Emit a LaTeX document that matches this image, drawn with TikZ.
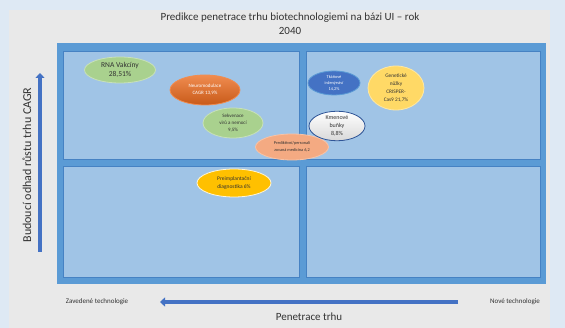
\documentclass[tikz,border=0pt]{standalone}
\usepackage{fontspec}
\setmainfont{Carlito}
\usetikzlibrary{arrows.meta,positioning,shapes.geometric}
\definecolor{pagebg}{RGB}{222,233,244}
\definecolor{panelbg}{RGB}{233,233,233}
\definecolor{framebl}{RGB}{91,155,213}
\definecolor{framedk}{RGB}{70,130,195}
\definecolor{panebl}{RGB}{160,196,230}
\definecolor{arrowbl}{RGB}{68,114,196}
\definecolor{vacgreen}{RGB}{169,209,142}
\definecolor{greenline}{RGB}{200,225,185}
\definecolor{neurotop}{RGB}{240,140,80}
\definecolor{neurobot}{RGB}{200,90,25}
\definecolor{persalm}{RGB}{244,170,130}
\definecolor{tissuebl}{RGB}{68,114,196}
\definecolor{crispyel}{RGB}{255,217,102}
\definecolor{stemline}{RGB}{47,85,151}
\definecolor{pgdgold}{RGB}{255,192,0}
\definecolor{txtdark}{RGB}{50,50,50}

\begin{document}
\begin{tikzpicture}[x=1pt, y=-1pt,
  bubble/.style={ellipse, inner sep=0pt, align=center, text=txtdark,
                 font=\fontsize{5}{7}\selectfont, line width=0.8pt},
  pane/.style={fill=panebl, draw=framedk, line width=0.4pt},
  axisarrow/.style={draw=arrowbl, line width=4pt, -{Triangle[length=5pt,width=9pt]}},
  axislabel/.style={font=\fontsize{11}{13}\selectfont, text=txtdark},
  endlabel/.style={font=\fontsize{7}{8}\selectfont, text=txtdark}]
\useasboundingbox (0,0) rectangle (565,328);
\fill[pagebg] (0,0) rectangle (565,328);
\fill[panelbg] (9,10) rectangle (550,328);
% frame and quadrants
\fill[framebl] (57,43) rectangle (546,284);
\draw[pane] (63,51) rectangle (299,159);
\draw[pane] (306,51) rectangle (540,159);
\draw[pane] (63,166) rectangle (299,277);
\draw[pane] (306,166) rectangle (540,277);
% title
\node[font=\fontsize{11}{14}\selectfont, align=center, text=txtdark] (title) at (290,24)
  {Predikce penetrace trhu biotechnologiemi na bázi UI -- rok\\2040};
% axes
\coordinate (ytail) at (40,252);
\coordinate (yhead) at (40,73);
\draw[axisarrow] (ytail) -- (yhead);
\node[axislabel, rotate=90, font=\fontsize{12}{14}\selectfont] (ylab) at (27,165)
  {Budoucí odhad růstu trhu CAGR};
\coordinate (xtail) at (458,302);
\coordinate (xhead) at (160,302);
\draw[axisarrow] (xtail) -- (xhead);
\node[axislabel] (xlab) at (309,317) {Penetrace trhu};
\node[endlabel] (old) at (97,302) {Zavedené technologie};
\node[endlabel] (new) at (515,302) {Nové technologie};
% bubbles
\node[bubble, fill=vacgreen, draw=greenline, minimum width=71pt, minimum height=26pt,
      font=\fontsize{7.5}{9}\selectfont] (rna) at (120,70) {RNA Vakcíny\\28,51\%};
\node[bubble, top color=neurotop, bottom color=neurobot, draw=neurotop, text=white,
      minimum width=70pt, minimum height=30pt] (neuro) at (205,90) {Neuromodulace\\CAGR 13,9\%};
\node[bubble, fill=vacgreen, draw=greenline, minimum width=60pt, minimum height=30pt]
      (seq) at (233,123) {Sekvenace\\virů a nemocí\\9,5\%};
\node[bubble, fill=persalm, draw=persalm!70!white, minimum width=73pt, minimum height=26pt,
      font=\fontsize{4.3}{6.5}\selectfont] (pers) at (292,147) {Prediktivní/personali\\zovaná medicína 6,2};
\node[bubble, fill=tissuebl, draw=framebl, text=white, minimum width=52pt, minimum height=24pt,
      font=\fontsize{4.3}{6}\selectfont] (tissue) at (334,83) {Tkáňové\\inženýrství\\14,2\%};
\node[bubble, fill=crispyel, draw=crispyel!60!white, minimum width=56pt, minimum height=44pt,
      font=\fontsize{5.3}{7.8}\selectfont] (crispr) at (396,88) {Genetické\\nůžky\\CRISPER-\\Cas9 21,7\%};
\node[bubble, top color=white, bottom color=black!15, draw=stemline, minimum width=56pt,
      minimum height=28pt, font=\fontsize{6}{8}\selectfont] (stem) at (337,126) {Kmenové\\buňky\\8,8\%};
\node[bubble, fill=pgdgold, draw=white!85!pgdgold, minimum width=74pt, minimum height=28pt,
      font=\fontsize{5.5}{8}\selectfont] (pgd) at (234,183) {Preimplantační\\diagnostika 6\%};
\end{tikzpicture}
\end{document}
